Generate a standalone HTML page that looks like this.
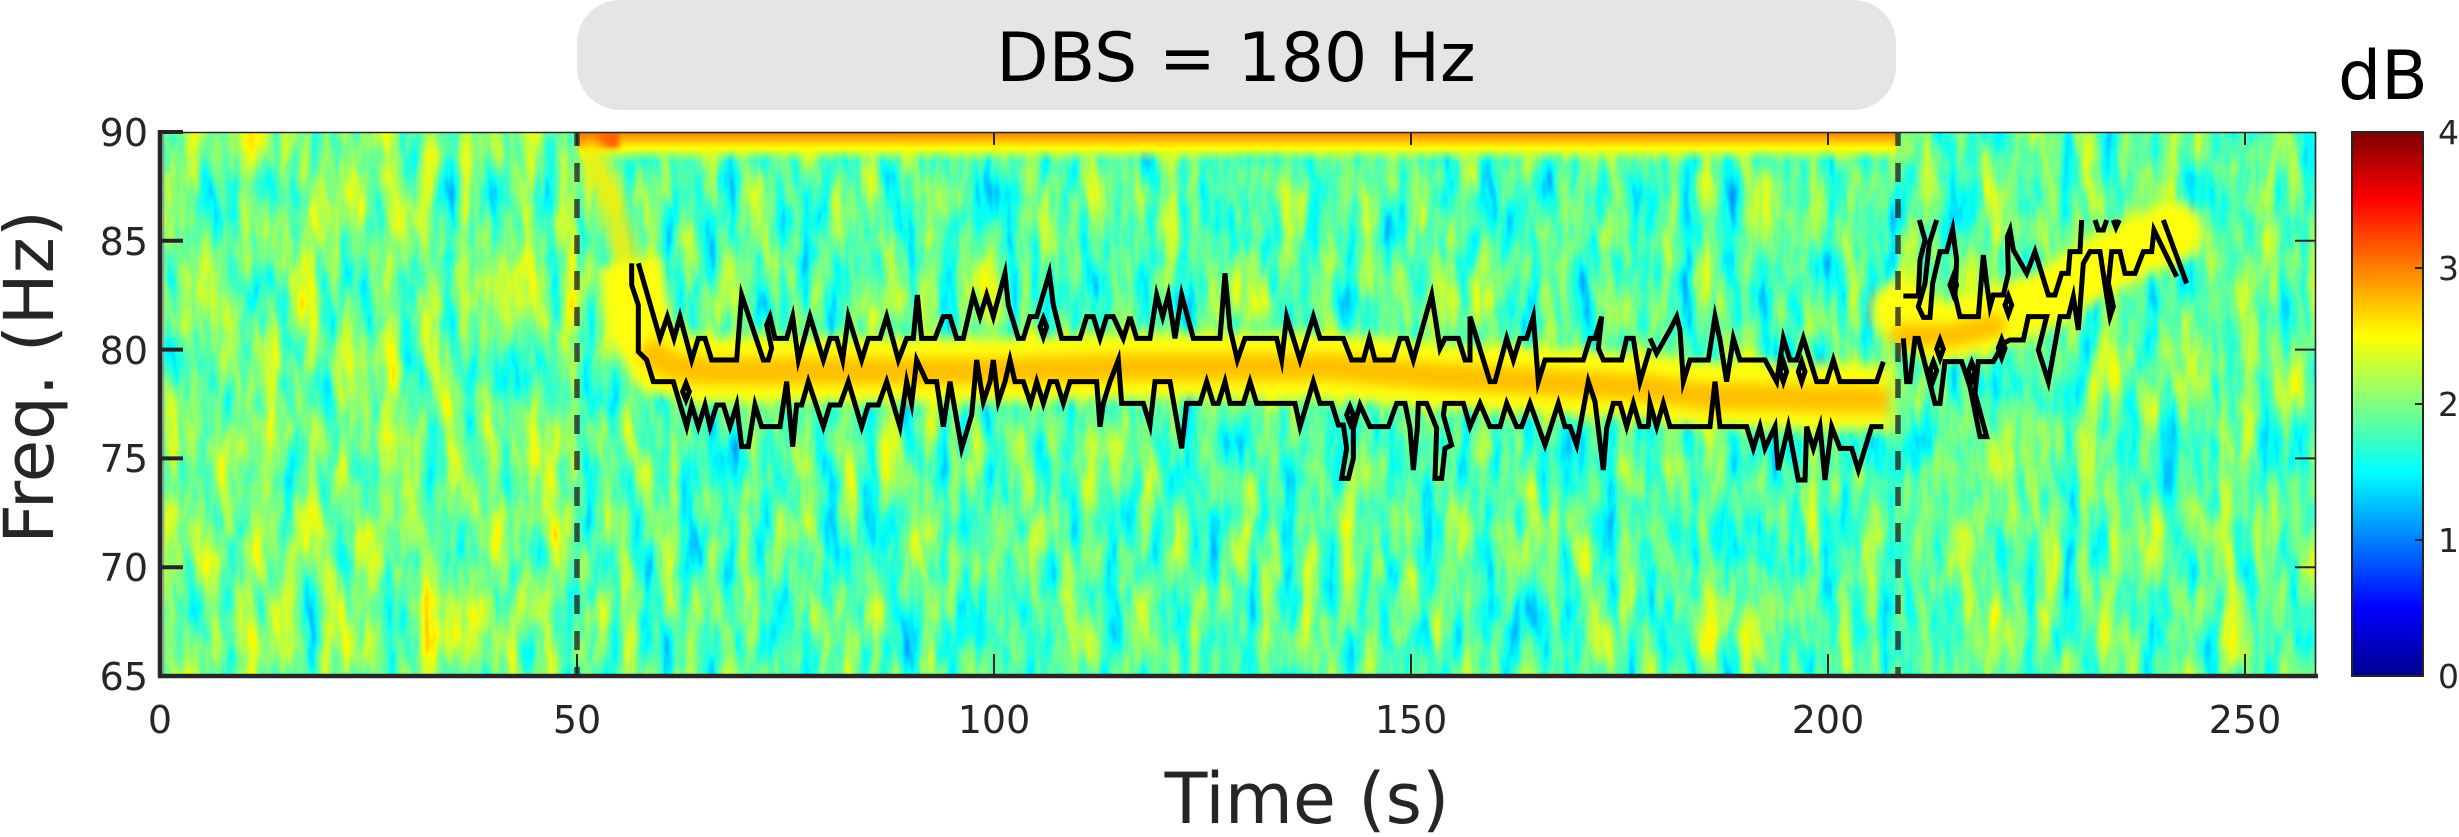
<!DOCTYPE html>
<html><head><meta charset="utf-8"><style>
html,body{margin:0;padding:0;background:#fff;}
svg{display:block;}
</style></head><body>
<svg width="2459" height="837" viewBox="0 0 2459 837" xmlns="http://www.w3.org/2000/svg" font-family="'DejaVu Sans','Liberation Sans',sans-serif">
<defs>
  <filter id="n1" x="0" y="0" width="1" height="1" color-interpolation-filters="sRGB">
    <feTurbulence type="fractalNoise" baseFrequency="0.05 0.012" numOctaves="3" seed="3"/>
    <feColorMatrix type="matrix" values="0.44 0 0 0 0.295  0.44 0 0 0 0.295  0.44 0 0 0 0.295  0 0 0 0 1"/>
    <feComponentTransfer>
      <feFuncR type="table" tableValues="0 0 0 0 0 0 0 0 0 0.22 0.42 0.62 0.82 1 1 1 1 1 0.98 0.78 0.58"/>
      <feFuncG type="table" tableValues="0 0 0 0.02 0.22 0.42 0.62 0.82 1 1 1 1 1 0.98 0.78 0.58 0.38 0.18 0 0 0"/>
      <feFuncB type="table" tableValues="0.5 0.62 0.82 1 1 1 1 1 0.98 0.78 0.58 0.38 0.18 0 0 0 0 0 0 0 0"/>
    </feComponentTransfer>
  </filter>
  <filter id="n2" x="0" y="0" width="1" height="1" color-interpolation-filters="sRGB">
    <feTurbulence type="fractalNoise" baseFrequency="0.05 0.012" numOctaves="3" seed="3"/>
    <feColorMatrix type="matrix" values="0.46 0 0 0 0.25  0.46 0 0 0 0.25  0.46 0 0 0 0.25  0 0 0 0 1"/>
    <feComponentTransfer>
      <feFuncR type="table" tableValues="0 0 0 0 0 0 0 0 0 0.22 0.42 0.62 0.82 1 1 1 1 1 0.98 0.78 0.58"/>
      <feFuncG type="table" tableValues="0 0 0 0.02 0.22 0.42 0.62 0.82 1 1 1 1 1 0.98 0.78 0.58 0.38 0.18 0 0 0"/>
      <feFuncB type="table" tableValues="0.5 0.62 0.82 1 1 1 1 1 0.98 0.78 0.58 0.38 0.18 0 0 0 0 0 0 0 0"/>
    </feComponentTransfer>
  </filter>
  <filter id="n3" x="0" y="0" width="1" height="1" color-interpolation-filters="sRGB">
    <feTurbulence type="fractalNoise" baseFrequency="0.05 0.012" numOctaves="3" seed="3"/>
    <feColorMatrix type="matrix" values="0.44 0 0 0 0.272  0.44 0 0 0 0.272  0.44 0 0 0 0.272  0 0 0 0 1"/>
    <feComponentTransfer>
      <feFuncR type="table" tableValues="0 0 0 0 0 0 0 0 0 0.22 0.42 0.62 0.82 1 1 1 1 1 0.98 0.78 0.58"/>
      <feFuncG type="table" tableValues="0 0 0 0.02 0.22 0.42 0.62 0.82 1 1 1 1 1 0.98 0.78 0.58 0.38 0.18 0 0 0"/>
      <feFuncB type="table" tableValues="0.5 0.62 0.82 1 1 1 1 1 0.98 0.78 0.58 0.38 0.18 0 0 0 0 0 0 0 0"/>
    </feComponentTransfer>
  </filter>
  <filter id="blur" x="-0.1" y="-0.5" width="1.2" height="2"><feGaussianBlur stdDeviation="6"/></filter>
  <filter id="blur2" x="-0.1" y="-0.5" width="1.2" height="2"><feGaussianBlur stdDeviation="3"/></filter>
  <linearGradient id="jet" x1="0" y1="0" x2="0" y2="1">
    <stop offset="0" stop-color="#800000"/>
    <stop offset="0.125" stop-color="#ff0000"/>
    <stop offset="0.375" stop-color="#ffff00"/>
    <stop offset="0.625" stop-color="#00ffff"/>
    <stop offset="0.875" stop-color="#0000ff"/>
    <stop offset="1" stop-color="#00008f"/>
  </linearGradient>
  <linearGradient id="topstrip" x1="0" y1="0" x2="0" y2="1">
    <stop offset="0" stop-color="#ff7a00"/>
    <stop offset="0.25" stop-color="#ffb800"/>
    <stop offset="0.55" stop-color="#ffff00"/>
    <stop offset="1" stop-color="#d0ff30" stop-opacity="0"/>
  </linearGradient>
  <clipPath id="ax"><rect x="160" y="132" width="2156" height="544"/></clipPath>
</defs>

<!-- title box -->
<rect x="577" y="0" width="1319" height="110" rx="43" ry="43" fill="#e5e5e5"/>
<text x="1236" y="81" font-size="68" text-anchor="middle" fill="#000">DBS = 180 Hz</text>

<!-- spectrogram background -->
<g clip-path="url(#ax)">
  <rect x="160" y="132" width="417" height="544" filter="url(#n1)"/>
  <rect x="577" y="132" width="1321" height="544" filter="url(#n2)"/>
  <rect x="1898" y="132" width="418" height="544" filter="url(#n3)"/>

  <!-- top strip 50-208 s -->
  <rect x="579" y="132" width="1317" height="30" fill="url(#topstrip)"/>
  <rect x="579" y="132" width="40" height="16" fill="#ff5a00" filter="url(#blur2)"/>

  <!-- main band -->
  <g filter="url(#blur)">
    <polyline points="590,150 608,190 622,235 632,290" fill="none" stroke="#ffee00" stroke-width="26" stroke-opacity="0.85" stroke-linecap="round"/>
    <polyline points="628,262 640,330 660,362 700,370 1000,370 1130,366 1330,366 1430,375 1650,386 1700,394 1890,398" fill="none" stroke="#ffff10" stroke-width="66" stroke-linejoin="round"/>
    <polyline points="645,345 665,364 700,371 1000,371 1130,367 1330,367 1430,376 1650,388 1700,396 1888,400" fill="none" stroke="#ffb400" stroke-width="28" stroke-opacity="0.85" stroke-linejoin="round"/>
    <polyline points="1900,310 1915,325 1950,332 2000,316 2050,298 2090,270 2130,250 2175,232" fill="none" stroke="#ffff10" stroke-width="60" stroke-linejoin="round" stroke-linecap="round"/>
    <polyline points="1902,335 1950,336 1995,325" fill="none" stroke="#ffb400" stroke-width="24" stroke-opacity="0.85" stroke-linecap="round"/>
  </g>

  <!-- dashed lines -->
  <line x1="577" y1="127" x2="577" y2="676" stroke="#262626" stroke-opacity="0.8" stroke-width="5.5" stroke-dasharray="19 17"/>
  <line x1="1898" y1="127" x2="1898" y2="676" stroke="#262626" stroke-opacity="0.8" stroke-width="5.5" stroke-dasharray="19 17"/>

  <!-- contours -->
  <g fill="none" stroke="#000" stroke-width="5" stroke-linejoin="miter" stroke-miterlimit="6">
    <g transform="translate(610 215) scale(0.333333)">
      <polyline vector-effect="non-scaling-stroke" points="85,145 150,370 172,305 192,370 210,305 245,435 265,370 285,370 305,435 380,435 395,240 460,435 475,435 485,400 470,330 480,305 495,370 530,370 548,305 565,435 600,305 640,435 660,370 680,370 698,435 715,305 755,435 775,370 810,370 830,305 865,435 890,370 910,370 922,240 935,370 975,370 1000,305 1020,305 1040,370 1060,370 1090,240 1110,305 1130,240 1150,305 1185,175 1195,270 1225,370 1240,370 1260,305 1280,305 1318,175 1330,270 1355,370 1410,370 1430,305 1450,305 1470,370 1490,305 1510,305 1540,370 1560,305"/>
      <polyline vector-effect="non-scaling-stroke" points="65,145 65,210 85,270 85,410 110,435 130,500 190,500 230,635 245,570 265,635 285,570 300,635 320,570 340,570 360,635 380,570 395,695 415,695 435,570 455,635 510,635 530,500 548,695 560,570 575,570 595,500 640,635 660,570 690,570 715,500 755,635 775,570 805,570 830,500 870,635 890,500 905,565 920,435 950,500 980,500 1000,635 1020,500 1055,700 1085,600 1100,435 1120,560 1140,500 1150,435 1165,560 1185,500 1200,435 1215,500 1240,500 1262,565 1280,500 1300,565 1320,500 1340,500 1360,565 1380,500 1460,500 1470,635 1480,565 1500,500 1525,435 1535,565 1560,565"/>
      <polygon vector-effect="non-scaling-stroke" points="228,505 238,530 228,555 218,530"/>
      <polygon vector-effect="non-scaling-stroke" points="1300,310 1310,335 1300,365 1290,335"/>
    </g>
    <g transform="translate(1130 215) scale(0.333333)">
      <polyline vector-effect="non-scaling-stroke" points="0,305 20,370 60,370 80,240 98,305 115,240 135,370 155,240 190,370 270,370 285,175 300,340 322,435 345,370 440,370 455,435 470,305 510,435 550,305 570,370 640,370 665,435 700,435 718,370 735,435 790,435 810,370 830,370 850,435 905,240 930,400 945,370 985,370 1005,435 1020,435 1020,305 1080,500 1095,500 1130,370 1150,435 1170,370 1190,370 1210,305 1225,500 1245,435 1360,435 1380,370 1395,370 1415,305 1405,400 1420,435 1475,435 1490,370 1510,370 1530,500 1560,400"/>
      <polyline vector-effect="non-scaling-stroke" points="0,565 40,565 60,630 75,500 120,500 155,700 170,565 210,565 230,500 250,565 265,565 285,500 300,565 340,565 360,500 380,565 495,565 510,635 550,500 570,565 605,565 625,630 640,630 650,700 635,790 655,790 670,730 670,640 690,570 720,635 775,635 800,565 825,565 840,640 850,765 862,640 865,565 890,565 920,640 915,790 935,790 945,700 965,690 940,600 945,565 1000,565 1020,635 1050,565 1080,635 1110,635 1130,565 1160,635 1175,635 1200,565 1245,690 1285,565 1305,635 1320,635 1340,690 1375,500 1395,560 1420,765 1430,640 1450,565 1470,565 1490,635 1510,565 1530,635 1560,635"/>
      <polygon vector-effect="non-scaling-stroke" points="660,575 670,600 660,625 650,600"/>
    </g>
    <g transform="translate(1650 200) scale(0.333333)">
      <polyline vector-effect="non-scaling-stroke" points="0,415 20,460 60,390 80,350 90,390 100,545 120,480 175,480 195,350 210,420 230,545 250,415 270,480 345,480 380,545 400,415 420,480 440,480 460,415 500,545 530,545 550,480 570,545 680,545 700,485"/>
      <polyline vector-effect="non-scaling-stroke" points="-5,680 0,610 20,680 40,610 60,680 180,680 195,545 210,680 290,680 310,745 330,680 345,745 375,680 385,810 415,680 445,840 465,840 470,680 490,745 510,680 525,840 545,680 570,745 605,745 625,810 665,680 700,680"/>
      <polygon vector-effect="non-scaling-stroke" points="400,485 410,515 400,545 390,515"/>
      <polygon vector-effect="non-scaling-stroke" points="455,485 465,515 455,545 445,515"/>
      <polyline vector-effect="non-scaling-stroke" points="760,288 805,288 810,180 825,120 808,60"/>
      <polyline vector-effect="non-scaling-stroke" points="860,60 838,130 825,250 805,320 820,352 840,352 848,250 870,155 890,155 908,88 920,180 915,285 930,350 985,350 1000,165 1010,250 1020,320 1030,285 1060,285 1075,220 1072,110 1080,90 1090,150 1130,220 1155,155 1195,285 1215,285 1235,220 1255,220 1260,155 1290,155 1295,60"/>
      <polyline vector-effect="non-scaling-stroke" points="1335,60 1345,90 1360,90 1370,60"/>
      <polyline vector-effect="non-scaling-stroke" points="1390,60 1398,82 1408,60"/>
      <polyline vector-effect="non-scaling-stroke" points="1540,60 1610,250"/>
      <polyline vector-effect="non-scaling-stroke" points="760,415 770,545 780,545 795,415 805,415 855,610 870,610 885,485 935,485 960,560 990,710 1010,710 975,580 985,485 1030,485 1060,430 1080,420 1120,420 1135,350 1190,350 1165,450 1195,545 1230,350 1255,350 1270,290 1285,390 1300,190 1320,155 1350,155 1365,255 1380,350 1390,320 1375,250 1385,155 1410,155 1425,220 1455,220 1480,155 1505,155 1512,90 1580,230"/>
      <polygon vector-effect="non-scaling-stroke" points="850,485 860,512 850,540 840,512"/>
      <polygon vector-effect="non-scaling-stroke" points="870,420 880,447 870,475 860,447"/>
      <polygon vector-effect="non-scaling-stroke" points="910,228 920,255 910,283 900,255"/>
      <polygon vector-effect="non-scaling-stroke" points="965,488 975,515 965,543 955,515"/>
      <polygon vector-effect="non-scaling-stroke" points="1055,418 1065,445 1055,473 1045,445"/>
      <polygon vector-effect="non-scaling-stroke" points="1075,288 1085,315 1075,343 1065,315"/>
    </g>
  </g>
</g>

<!-- axes frame -->
<line x1="160" y1="132.5" x2="2316" y2="132.5" stroke="#262626" stroke-width="1.6"/>
<line x1="2315.5" y1="132" x2="2315.5" y2="676" stroke="#262626" stroke-width="1.6"/>
<line x1="160" y1="130" x2="160" y2="678" stroke="#262626" stroke-width="4.5"/>
<line x1="163.5" y1="132" x2="163.5" y2="676" stroke="#9a9a9a" stroke-width="1.5"/>
<line x1="158" y1="676" x2="2318" y2="676" stroke="#262626" stroke-width="4.5"/>

<!-- ticks -->
<g stroke="#262626">
  <g stroke-width="4">
    <line x1="160" y1="132" x2="183" y2="132"/>
    <line x1="160" y1="240.8" x2="183" y2="240.8"/>
    <line x1="160" y1="349.6" x2="183" y2="349.6"/>
    <line x1="160" y1="458.4" x2="183" y2="458.4"/>
    <line x1="160" y1="567.2" x2="183" y2="567.2"/>
    <line x1="160" y1="676" x2="183" y2="676"/>
  </g>
  <g stroke-width="2">
    <line x1="2295" y1="240.8" x2="2316" y2="240.8"/>
    <line x1="2295" y1="349.6" x2="2316" y2="349.6"/>
    <line x1="2295" y1="458.4" x2="2316" y2="458.4"/>
    <line x1="2295" y1="567.2" x2="2316" y2="567.2"/>
    <line x1="577" y1="676" x2="577" y2="654"/>
    <line x1="994" y1="676" x2="994" y2="654"/>
    <line x1="1411" y1="676" x2="1411" y2="654"/>
    <line x1="1828" y1="676" x2="1828" y2="654"/>
    <line x1="2245" y1="676" x2="2245" y2="654"/>
    <line x1="577" y1="132" x2="577" y2="145"/>
    <line x1="994" y1="132" x2="994" y2="145"/>
    <line x1="1411" y1="132" x2="1411" y2="145"/>
    <line x1="1828" y1="132" x2="1828" y2="145"/>
    <line x1="2245" y1="132" x2="2245" y2="145"/>
  </g>
</g>

<!-- tick labels -->
<g font-size="38" fill="#262626">
  <g text-anchor="end">
    <text x="148" y="146">90</text>
    <text x="148" y="255">85</text>
    <text x="148" y="364">80</text>
    <text x="148" y="472">75</text>
    <text x="148" y="581">70</text>
    <text x="148" y="690">65</text>
  </g>
  <g text-anchor="middle">
    <text x="160" y="733">0</text>
    <text x="577" y="733">50</text>
    <text x="994" y="733">100</text>
    <text x="1411" y="733">150</text>
    <text x="1828" y="733">200</text>
    <text x="2245" y="733">250</text>
  </g>
</g>

<!-- axis labels -->
<text transform="translate(53 377) rotate(-90)" font-size="69" text-anchor="middle" fill="#262626">Freq. (Hz)</text>
<text x="1307" y="823" font-size="70" text-anchor="middle" fill="#262626">Time (s)</text>

<!-- colorbar -->
<rect x="2352" y="132" width="71" height="544" fill="url(#jet)" stroke="#262626" stroke-width="2"/>
<g stroke="#262626" stroke-width="2">
  <line x1="2415" y1="268" x2="2423" y2="268"/>
  <line x1="2415" y1="404" x2="2423" y2="404"/>
  <line x1="2415" y1="540" x2="2423" y2="540"/>
</g>
<g font-size="33" fill="#262626">
  <text x="2438" y="144">4</text>
  <text x="2438" y="280">3</text>
  <text x="2438" y="416">2</text>
  <text x="2438" y="552">1</text>
  <text x="2438" y="688">0</text>
</g>
<text x="2338" y="99" font-size="68" fill="#000">dB</text>
</svg>
</body></html>
